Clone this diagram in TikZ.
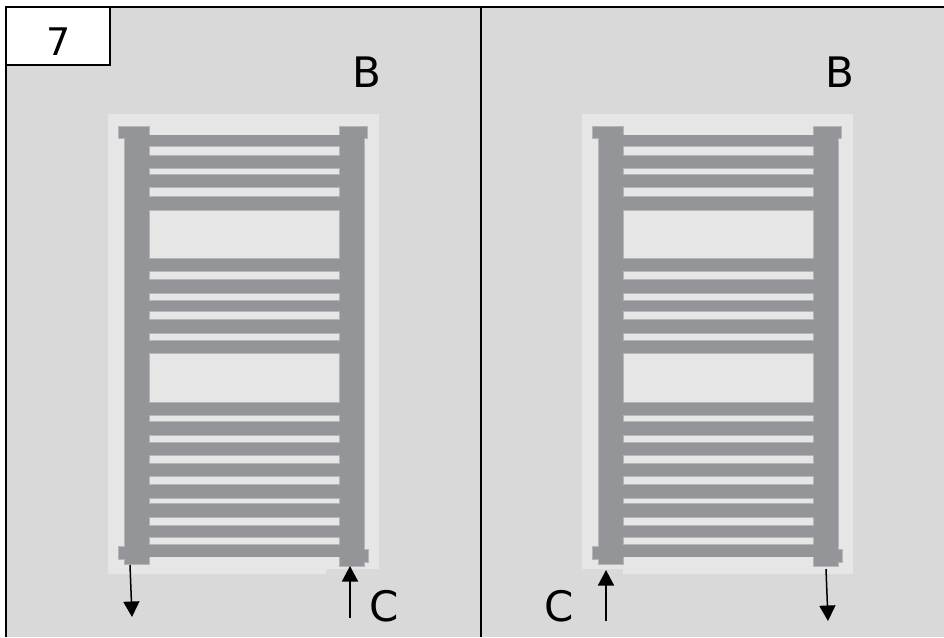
\documentclass[tikz,border=0pt]{standalone}
\usepackage{fontspec}
\setmainfont{DejaVu Sans}
\usetikzlibrary{arrows.meta}
\definecolor{panelbg}{HTML}{D9D9D9}
\definecolor{lightbg}{HTML}{E6E6E6}
\definecolor{railgray}{HTML}{939598}
\definecolor{edgegray}{HTML}{B4B5B7}
\tikzset{
  x=1pt,y=-1pt,
  frameline/.style={draw=black,line width=2pt},
  railfill/.style={fill=railgray,draw=edgegray,line width=0.5pt},
  gapbox/.style={fill=lightbg,draw=edgegray,line width=0.8pt},
  flowarrow/.style={draw=black,line width=1.5pt,-{Triangle[length=15.5pt,width=16pt]}},
  biglabel/.style={font=\fontsize{42}{42}\selectfont,text=black,inner sep=0pt,anchor=base},
  numlabel/.style={font=\fontsize{38}{38}\selectfont,text=black,inner sep=0pt,anchor=base},
}
\newcommand{\radiator}{%
  \filldraw[railfill] (118,126) -- (149,126) -- (149,564.5) -- (124,564.5) -- (124,559) -- (118,559) -- (118,546) -- (124,546) -- (124,138) -- (118,138) -- cycle;
  \filldraw[railfill] (339,126) -- (367,126) -- (367,138) -- (364,138) -- (364,549) -- (368,549) -- (368,562.5) -- (364,562.5) -- (364,566) -- (339,566) -- cycle;
  \fill[railgray] (148,134.5) rectangle (340,556.5);
  \foreach \ya/\yb in {146.8/155.1,168.5/174.5,187.1/196.1,210.5/258.5,271.8/279.5,293.1/300.1,311.5/319.5,333.1/340.5,353.1/402.5,415.5/421.5,435.1/442.5,455.5/463.5,476.5/484,498.1/503.5,517.1/525.5,537.1/544.5}{
    \filldraw[gapbox] (149,\ya) rectangle (339,\yb);
  }
}
\begin{document}
\begin{tikzpicture}
\useasboundingbox (0,0) rectangle (944,637);
\fill[white] (0,0) rectangle (944,637);
\fill[panelbg] (6,7) rectangle (944,637);
% left panel
\fill[lightbg] (108,114) -- (379,114) -- (379,569) -- (326,569) -- (326,574) -- (108,574) -- cycle;
\radiator
% right panel
\begin{scope}[xshift=474pt]
\fill[lightbg] (108,114) -- (379,114) -- (379,574) -- (149,574) -- (149,569) -- (108,569) -- cycle;
\radiator
\end{scope}
% frame
\draw[frameline] (6,637) -- (6,7) -- (944,7);
\draw[frameline] (480.5,7) -- (480.5,637);
\node[draw=black,line width=2pt,fill=white,minimum width=104pt,minimum height=58pt,inner sep=0pt] (numbox) at (58,36) {};
\node[numlabel] (num) at (58.5,55) {7};
\node[biglabel] (bl) at (367,87.5) {B};
\node[biglabel] (br) at (839.5,87.5) {B};
\node[biglabel] (cl) at (384,621.2) {C};
\node[biglabel] (cr) at (559,621.2) {C};
% arrows
\coordinate (a1s) at (130,565); \coordinate (a1e) at (132,617);
\coordinate (a2s) at (350,617.5); \coordinate (a2e) at (350,566);
\coordinate (a3s) at (606,621); \coordinate (a3e) at (606,570);
\coordinate (a4s) at (826,569); \coordinate (a4e) at (828,621);
\draw[flowarrow] (a1s) -- (a1e);
\draw[flowarrow] (a2s) -- (a2e);
\draw[flowarrow] (a3s) -- (a3e);
\draw[flowarrow] (a4s) -- (a4e);
\end{tikzpicture}
\end{document}
